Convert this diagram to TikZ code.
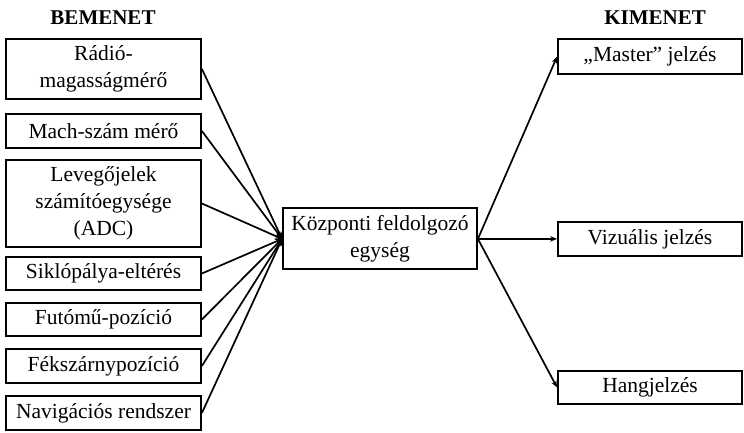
\documentclass[tikz,border=0pt]{standalone}
\usepackage{fontspec}
\setmainfont{Liberation Serif}
\usetikzlibrary{arrows.meta}
\begin{document}
\begin{tikzpicture}[x=1pt,y=1pt,
  box/.style={draw, line width=1.8pt, minimum width=195pt, inner sep=0pt,
    align=center, font=\fontsize{21.5}{27}\selectfont},
  title/.style={font=\fontsize{21}{24}\selectfont\bfseries},
  link/.style={line width=1.7pt, -{Stealth[length=7pt,width=5.5pt]}}]
\useasboundingbox (0,0) rectangle (744,433);
% column headings
\node[title] (tin) at (103,415) {BEMENET};
\node[title] (tout) at (655,415) {KIMENET};
% inputs
\node[box, minimum height=60pt] (i1) at (103.5,364) {Rádió-\\magasságmérő};
\node[box, minimum height=34pt] (i2) at (103.5,302) {Mach-szám mérő};
\node[box, minimum height=87pt] (i3) at (103.5,229.5) {Levegőjelek\\számítóegysége\\(ADC)};
\node[box, minimum height=33pt] (i4) at (103.5,159.5) {Siklópálya-eltérés};
\node[box, minimum height=33pt] (i5) at (103.5,113.5) {Futómű-pozíció};
\node[box, minimum height=34pt] (i6) at (103.5,67) {Fékszárnypozíció};
\node[box, minimum height=34pt] (i7) at (103.5,20) {Navigációs rendszer};
% processing unit
\node[box, minimum width=194pt, minimum height=61pt] (cpu) at (380,194.1) {Központi feldolgozó\\egység};
% outputs
\node[box, minimum width=184pt, minimum height=35pt] (o1) at (650,376.5) {„Master” jelzés};
\node[box, minimum width=184pt, minimum height=34pt] (o2) at (650,194.1) {Vizuális jelzés};
\node[box, minimum width=184pt, minimum height=33pt] (o3) at (650,45.5) {Hangjelzés};
% connectors
\foreach \n in {i1,i2,i3,i4,i5,i6,i7}
  \draw[link] (\n.east) -- (cpu.west);
\foreach \n in {o1,o2,o3}
  \draw[link] (cpu.east) -- (\n.west);
\end{tikzpicture}
\end{document}
